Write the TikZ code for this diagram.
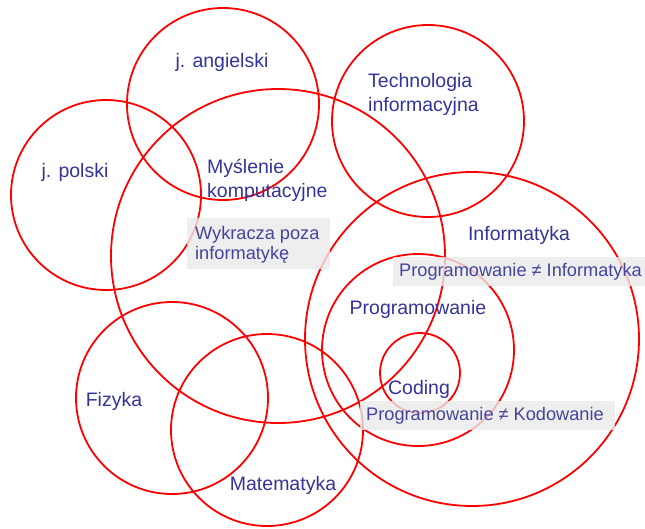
\documentclass[tikz,border=0pt]{standalone}
\usepackage{fontspec}
\setmainfont{Liberation Sans}
\definecolor{ringred}{RGB}{255,0,0}
\definecolor{labelblue}{RGB}{51,51,153}
\definecolor{noteblue}{RGB}{68,68,158}
\definecolor{notegray}{RGB}{234,234,234}

\begin{document}
\begin{tikzpicture}[x=1pt, y=-1pt,
    ring/.style={draw=ringred, line width=1.8pt},
    txt/.style={text=labelblue, font=\fontsize{19.5}{24}\selectfont, inner sep=0pt},
    note/.style={text=noteblue, font=\fontsize{18.2}{20}\selectfont, inner sep=0pt},
    notebox/.style={fill=notegray, fill opacity=0.8}]
        \useasboundingbox (0,0) rectangle (645,528);

        % circles
        \draw[ring] (223,104) circle [radius=96];
        \draw[ring] (106,195) circle [radius=95];
        \draw[ring] (428,121) circle [radius=96];
        \draw[ring] (278,256) circle [radius=167];
        \draw[ring] (472,339) circle [radius=167];
        \draw[ring] (418,350) circle [radius=96];
        \draw[ring] (420,373) circle [radius=40];
        \draw[ring] (172,398) circle [radius=96];
        \draw[ring] (267,430) circle [radius=96];

        % grey notes
        \fill[notebox] (187,218) rectangle (330,269);
        \fill[notebox] (393,257) rectangle (645,286);
        \fill[notebox] (360,401) rectangle (615,430);

        \node[txt] (angielski) at (222,62) {j. angielski};
        \node[txt] (polski) at (75,172) {j. polski};
        \node[txt, anchor=west, align=left] (myslenie) at (207,180) {Myślenie\\komputacyjne};
        \node[txt, anchor=west, align=left] (technologia) at (368,94) {Technologia\\informacyjna};
        \node[txt] (informatyka) at (519,235) {Informatyka};
        \node[txt] (programowanie) at (418,309) {Programowanie};
        \node[txt] (coding) at (419,389) {Coding};
        \node[txt] (fizyka) at (114,401) {Fizyka};
        \node[txt] (matematyka) at (283,485) {Matematyka};

        \node[note, anchor=west, align=left] (poza) at (195,245) {Wykracza poza\\informatykę};
        \node[note, anchor=west] (neqinf) at (399,272) {Programowanie ≠ Informatyka};
        \node[note, anchor=west] (neqkod) at (366,416) {Programowanie ≠ Kodowanie};

    \end{tikzpicture}
\end{document}
